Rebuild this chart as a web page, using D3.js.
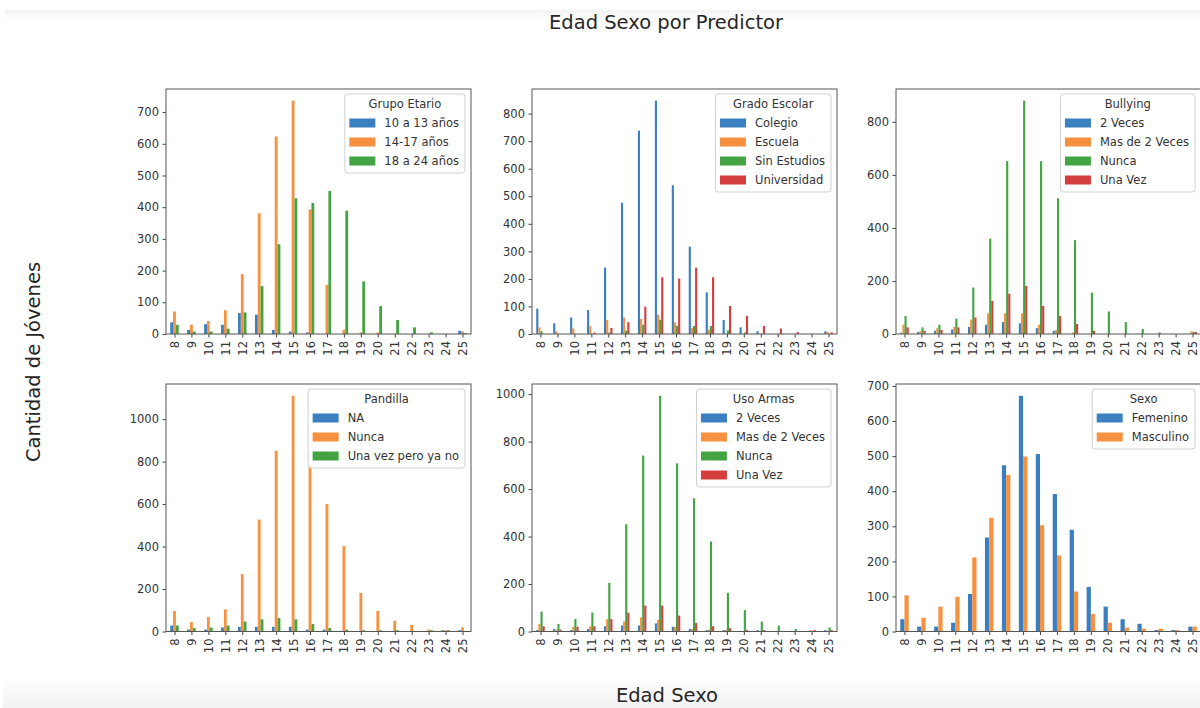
<!DOCTYPE html>
<html>
<head>
<meta charset="utf-8">
<script src="https://cdn.jsdelivr.net/npm/d3@7"></script>
<style>
  body { margin: 0; background: #fff; }
  svg { display: block; }
  text { font-family: "DejaVu Sans", sans-serif; }
</style>
</head>
<body>
<svg id="chart" width="1200" height="708"></svg>
<script>
// Age categories on every x axis
const ages = ["8","9","10","11","12","13","14","15","16","17","18","19","20","21","22","23","24","25"];

// Grupo Etario
const grupoNames = ["10 a 13 años", "14-17 años", "18 a 24 años"];
const grupo10a13 = [37,13,31,29,66,61,13,8,5,0,0,0,0,0,0,0,0,10];
const grupo14a17 = [71,29,41,75,189,381,623,736,393,155,13,5,5,0,0,0,0,8];
const grupo18a24 = [29,8,8,17,68,151,283,428,413,451,389,166,88,44,21,5,0,3];
const grupoTicks = [0,100,200,300,400,500,600,700];

// Grado Escolar
const gradoNames = ["Colegio", "Escuela", "Sin Estudios", "Universidad"];
const gradoColegio = [92,39,60,87,241,476,738,847,540,317,151,51,24,10,0,0,0,10];
const gradoEscuela = [24,10,20,29,51,60,55,70,42,22,16,0,0,0,0,0,0,8];
const gradoSinEstudios = [10,0,0,0,5,12,34,52,30,29,29,13,5,0,0,0,0,0];
const gradoUniversidad = [0,0,0,5,22,43,99,206,201,241,206,102,66,29,20,7,0,6];
const gradoTicks = [0,100,200,300,400,500,600,700,800];

// Bullying
const bullyNames = ["2 Veces", "Mas de 2 Veces", "Nunca", "Una Vez"];
const bully2Veces = [5,8,12,17,27,35,45,40,22,12,0,0,0,0,0,0,0,0];
const bullyMas2Veces = [35,10,22,27,54,78,78,78,35,15,6,0,0,0,0,0,0,10];
const bullyNunca = [68,25,35,58,175,360,652,880,652,512,354,156,85,45,19,6,0,8];
const bullyUnaVez = [25,12,15,25,62,125,152,181,106,68,38,12,0,0,0,0,0,8];
const bullyTicks = [0,200,400,600,800];

// Pandilla
const pandNames = ["NA", "Nunca", "Una vez pero ya no"];
const pandNA = [28,9,9,19,22,22,22,22,9,9,3,0,0,0,0,0,6,6];
const pandNunca = [97,44,69,104,270,527,851,1110,782,600,402,182,97,50,31,9,6,19];
const pandUnaVez = [28,16,19,28,47,57,63,57,35,16,9,6,6,6,0,6,6,0];
const pandTicks = [0,200,400,600,800,1000];

// Uso Armas
const armasNames = ["2 Veces", "Mas de 2 Veces", "Nunca", "Una Vez"];
const armas2Veces = [6,11,6,11,22,25,25,34,20,11,6,6,3,6,0,3,0,6];
const armasMas2Veces = [32,8,20,22,52,42,59,49,20,11,8,6,0,0,0,0,6,0];
const armasNunca = [84,32,53,80,205,452,741,993,708,561,379,163,90,42,25,11,0,17];
const armasUnaVez = [22,8,20,22,52,79,109,109,67,36,22,14,6,6,0,0,6,6];
const armasTicks = [0,200,400,600,800,1000];

// Sexo
const sexoNames = ["Femenino", "Masculino"];
const sexoFemenino = [35,14,14,25,107,268,474,672,506,392,290,127,71,35,22,4,4,14];
const sexoMasculino = [103,39,71,99,211,324,446,499,303,217,114,50,25,11,8,8,4,14];
const sexoTicks = [0,100,200,300,400,500,600,700];

const colors = ["#3a7fbf", "#f8913f", "#43a443", "#d43e3e"];

const panels = [
  { title: "Grupo Etario", names: grupoNames, series: [grupo10a13, grupo14a17, grupo18a24], ticks: grupoTicks, col: 0, row: 0 },
  { title: "Grado Escolar", names: gradoNames, series: [gradoColegio, gradoEscuela, gradoSinEstudios, gradoUniversidad], ticks: gradoTicks, col: 1, row: 0 },
  { title: "Bullying", names: bullyNames, series: [bully2Veces, bullyMas2Veces, bullyNunca, bullyUnaVez], ticks: bullyTicks, col: 2, row: 0 },
  { title: "Pandilla", names: pandNames, series: [pandNA, pandNunca, pandUnaVez], ticks: pandTicks, col: 0, row: 1 },
  { title: "Uso Armas", names: armasNames, series: [armas2Veces, armasMas2Veces, armasNunca, armasUnaVez], ticks: armasTicks, col: 1, row: 1 },
  { title: "Sexo", names: sexoNames, series: [sexoFemenino, sexoMasculino], ticks: sexoTicks, col: 2, row: 1 }
];

// Subplot grid geometry
const colLeft = [166, 532, 896];
const axW = 305;
const rowTop = [89, 384];
const rowBottom = [334, 631.5];

const svg = d3.select("#chart");

// Soft bands at the top and bottom of the figure
const defs = svg.append("defs");
const gTop = defs.append("linearGradient").attr("id", "bandTop").attr("x1", 0).attr("x2", 0).attr("y1", 0).attr("y2", 1);
gTop.append("stop").attr("offset", 0).attr("stop-color", "#f4f4f4");
gTop.append("stop").attr("offset", 1).attr("stop-color", "#ffffff");
const gBot = defs.append("linearGradient").attr("id", "bandBot").attr("x1", 0).attr("x2", 0).attr("y1", 0).attr("y2", 1);
gBot.append("stop").attr("offset", 0).attr("stop-color", "#ffffff");
gBot.append("stop").attr("offset", 1).attr("stop-color", "#f2f2f2");
svg.append("rect").attr("x", 5).attr("y", 10).attr("width", 1195).attr("height", 11).attr("fill", "url(#bandTop)");
svg.append("rect").attr("x", 3).attr("y", 676).attr("width", 1197).attr("height", 32).attr("fill", "url(#bandBot)");

const tickFs = 11.5;
const textCol = "#333";

panels.forEach(p => {
  const x0 = colLeft[p.col], x1 = x0 + axW;
  const y0 = rowTop[p.row], y1 = rowBottom[p.row];
  const g = svg.append("g");

  const x = d3.scaleLinear().domain([-0.5, ages.length - 0.5]).range([x0, x1]);
  const ymax = d3.max(p.series.flat()) * 1.05;
  const y = d3.scaleLinear().domain([0, ymax]).range([y1, y0]);

  const n = p.series.length, w = 0.5 / n;
  p.series.forEach((vals, i) => {
    g.append("g").selectAll("rect").data(vals).enter().append("rect")
      .attr("x", (d, j) => x(j + (i - (n - 1) / 2) * w - w / 2))
      .attr("width", x(w) - x(0))
      .attr("y", d => y(d))
      .attr("height", d => y(0) - y(d))
      .attr("fill", colors[i]);
  });

  // x axis
  const xa = g.append("g").attr("transform", `translate(0,${y1})`)
    .call(d3.axisBottom(x).tickValues(d3.range(ages.length)).tickFormat(i => ages[i]).tickSize(3.5).tickPadding(3.5));
  xa.select(".domain").remove();
  xa.selectAll("line").attr("stroke", "#444");
  xa.selectAll("text")
    .attr("transform", "rotate(-90)")
    .attr("x", -7).attr("y", 0).attr("dy", "0.35em")
    .attr("text-anchor", "end")
    .attr("font-size", tickFs).attr("fill", textCol).attr("font-family", "DejaVu Sans");

  // y axis
  const ya = g.append("g").attr("transform", `translate(${x0},0)`)
    .call(d3.axisLeft(y).tickValues(p.ticks).tickFormat(d3.format("d")).tickSize(3.5).tickPadding(3.5));
  ya.select(".domain").remove();
  ya.selectAll("line").attr("stroke", "#444");
  ya.selectAll("text").attr("font-size", tickFs).attr("fill", textCol).attr("font-family", "DejaVu Sans");

  // spines
  g.append("rect").attr("x", x0).attr("y", y0).attr("width", axW).attr("height", y1 - y0)
    .attr("fill", "none").attr("stroke", "#555").attr("stroke-width", 1);

  // legend (upper right)
  const lg = g.append("g");
  const box = lg.append("rect");
  const titleT = lg.append("text").text(p.title)
    .attr("font-size", tickFs).attr("fill", textCol).attr("text-anchor", "middle").attr("dy", "0.35em");
  let maxLab = 0;
  const labs = p.names.map((nm, i) => {
    const t = lg.append("text").text(nm).attr("font-size", tickFs).attr("fill", textCol).attr("dy", "0.35em");
    maxLab = Math.max(maxLab, t.node().getComputedTextLength());
    return t;
  });
  const padL = 4.5, patchW = 26, gap = 9, padR = 6;
  const bw = Math.max(padL + patchW + gap + maxLab + padR, titleT.node().getComputedTextLength() + 12);
  const bx = x1 - 6 - bw, by = y0 + 5;
  const rowH = 19;
  const bh = 10 + rowH * n + 12;
  box.attr("x", bx).attr("y", by).attr("width", bw).attr("height", bh).attr("rx", 3)
    .attr("fill", "#fff").attr("fill-opacity", 0.8).attr("stroke", "#d0d0d0");
  titleT.attr("x", bx + bw / 2).attr("y", by + 10);
  labs.forEach((t, i) => {
    const cy = by + 10 + rowH * (i + 1);
    lg.append("rect").attr("x", bx + padL).attr("y", cy - 4.5).attr("width", patchW).attr("height", 9).attr("fill", colors[i]);
    t.attr("x", bx + padL + patchW + gap).attr("y", cy);
  });
});

// Figure title and shared axis labels
const bigFs = 19.5;
svg.append("text").attr("x", 666).attr("y", 29).attr("text-anchor", "middle")
  .attr("font-size", bigFs).attr("fill", "#262626").text("Edad Sexo por Predictor");
svg.append("text").attr("transform", "translate(40,362) rotate(-90)").attr("text-anchor", "middle")
  .attr("font-size", bigFs).attr("fill", "#262626").text("Cantidad de Jóvenes");
svg.append("text").attr("x", 667).attr("y", 702).attr("text-anchor", "middle")
  .attr("font-size", bigFs).attr("fill", "#262626").text("Edad Sexo");
</script>
</body>
</html>
